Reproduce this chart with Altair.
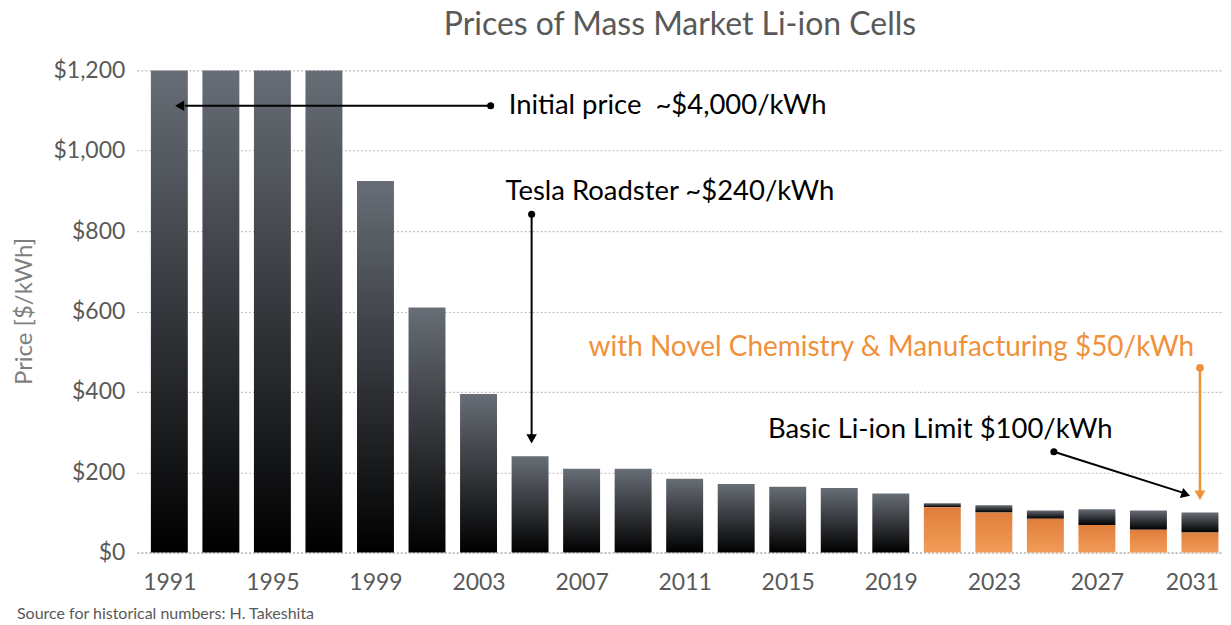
import altair as alt
import pandas as pd

# ---- data ----
years = [1991, 1993, 1995, 1997, 1999, 2001, 2003, 2005, 2007, 2009, 2011,
         2013, 2015, 2017, 2019, 2021, 2023, 2025, 2027, 2029, 2031]
total_price = [1200, 1200, 1200, 1200, 925, 610, 395, 240, 209, 209, 184,
               171, 164, 161, 147, 123, 118, 105, 108, 105, 100]
novel_price = [None] * 15 + [113, 100, 84, 69, 57, 50]
x_tick_years = [1991, 1995, 1999, 2003, 2007, 2011, 2015, 2019, 2023, 2027, 2031]
y_ticks = [0, 200, 400, 600, 800, 1000, 1200]

df = pd.DataFrame({"year": years, "total": total_price, "novel": novel_price})
df["base"] = df["novel"].fillna(0)
df_novel = df.dropna(subset=["novel"])

# annotations (data coordinates)
notes = pd.DataFrame({
    "text": ["Initial price\u00a0 ~$4,000/kWh", "Tesla Roadster ~$240/kWh",
             "Basic Li-ion Limit $100/kWh"],
    "year": [2004.17, 2004.05, 2014.23],
    "price": [1112, 898, 304],
})
note_orange = pd.DataFrame({"text": ["with Novel Chemistry & Manufacturing $50/kWh"],
                            "year": [2007.27], "price": [510]})

arrows = pd.DataFrame({
    "x": [2003.47, 2005.06, 2025.33],
    "y": [1112, 842, 251],
    "x2": [1991.6, 2005.06, 2030.3],
    "y2": [1112, 290, 150],
})
heads = pd.DataFrame({
    "x": [1991.4, 2005.06, 2030.45],
    "y": [1112, 283, 145],
    "angle": [270, 180, 108],
})
arrow_orange = pd.DataFrame({"x": [2031.0], "y": [460], "x2": [2031.0], "y2": [150]})
head_orange = pd.DataFrame({"x": [2031.0], "y": [143], "angle": [180]})

FONT = "Lato"
GRAY_TXT = "#595959"
ORANGE = "#F0903A"

xscale = alt.Scale(domain=[1989.93, 2031.70], nice=False, zero=False)
yscale = alt.Scale(domain=[0, 1200], nice=False)

dark_grad = alt.Gradient(
    gradient="linear",
    stops=[alt.GradientStop(color="#686e76", offset=0),
           alt.GradientStop(color="#000000", offset=1)],
    x1=1, x2=1, y1=0, y2=1,
)
orange_grad = alt.Gradient(
    gradient="linear",
    stops=[alt.GradientStop(color="#e07e3c", offset=0),
           alt.GradientStop(color="#f29c58", offset=1)],
    x1=1, x2=1, y1=0, y2=1,
)

X = alt.X("year:Q", scale=xscale, axis=alt.Axis(
    values=x_tick_years, format="d", title=None, grid=False,
    labelFontSize=23, labelColor=GRAY_TXT, labelFont=FONT, labelPadding=19,
    labelOffset={"condition": {"test": "datum.value == 2031", "value": -8}, "value": 0},
    ticks=False, domainColor="#bfbfbf", domainDash=[2, 2], domainWidth=1.5,
))
Y = alt.Y("total:Q", scale=yscale, axis=alt.Axis(
    values=y_ticks, format="$,.0f", title="Price [$/kWh]",
    labelFontSize=23, labelColor=GRAY_TXT, labelFont=FONT, labelPadding=12,
    ticks=False, domain=False, grid=True, gridColor="#bfbfbf", gridDash=[2, 2],
    gridWidth=1.2,
    titleFontSize=24, titleFont=FONT, titleColor="#7f7f7f", titleFontWeight="normal",
    titleX=-100, titleY=241, titleAngle=-90, titleAlign="center", titleBaseline="bottom",
))

dark = alt.Chart(df).mark_bar(size=37, color=dark_grad).encode(
    x=X, y=Y, y2="base:Q")
orange = alt.Chart(df_novel).mark_bar(size=37, color=orange_grad).encode(
    x="year:Q", y="novel:Q", y2=alt.datum(0))

txt = alt.Chart(notes).mark_text(
    align="left", baseline="middle", fontSize=27.5, font=FONT, color="#000000"
).encode(x="year:Q", y="price:Q", text="text:N")
txt_o = alt.Chart(note_orange).mark_text(
    align="left", baseline="middle", fontSize=28, font=FONT, color=ORANGE
).encode(x="year:Q", y="price:Q", text="text:N")

rules = alt.Chart(arrows).mark_rule(color="#000000", strokeWidth=2).encode(
    x="x:Q", y="y:Q", x2="x2:Q", y2="y2:Q")
dots = alt.Chart(arrows).mark_circle(color="#000000", size=50, opacity=1).encode(
    x="x:Q", y="y:Q")
tri = alt.Chart(heads).mark_point(shape="triangle-up", filled=True, color="#000000",
                                  size=110, opacity=1).encode(
    x="x:Q", y="y:Q", angle=alt.Angle("angle:Q", scale=None))

rule_o = alt.Chart(arrow_orange).mark_rule(color=ORANGE, strokeWidth=2.5).encode(
    x="x:Q", y="y:Q", x2="x2:Q", y2="y2:Q")
dot_o = alt.Chart(arrow_orange).mark_circle(color=ORANGE, size=60, opacity=1).encode(
    x="x:Q", y="y:Q")
tri_o = alt.Chart(head_orange).mark_point(shape="triangle-up", filled=True, color=ORANGE,
                                          size=120, opacity=1).encode(
    x="x:Q", y="y:Q", angle=alt.Angle("angle:Q", scale=None))

source = alt.Chart(pd.DataFrame({"t": ["Source for historical numbers: H. Takeshita"]})).mark_text(
    align="left", baseline="middle", fontSize=16, font=FONT, color=GRAY_TXT
).encode(x=alt.value(-120), y=alt.value(545), text="t:N")

chart = alt.layer(dark, orange, rules, dots, tri, rule_o, dot_o, tri_o, txt, txt_o, source).properties(
    width=1088, height=483,
    title=alt.TitleParams("Prices of Mass Market Li-ion Cells", fontSize=32, font=FONT,
                          color=GRAY_TXT, fontWeight="normal", anchor="middle",
                          frame="group", offset=17),
    autosize=alt.AutoSizeParams(type="none"),
    padding={"left": 129, "top": 62, "right": 0, "bottom": 70},
).configure_view(stroke=None)

chart.save("out.html", embed_options={"renderer": "svg", "actions": False})
